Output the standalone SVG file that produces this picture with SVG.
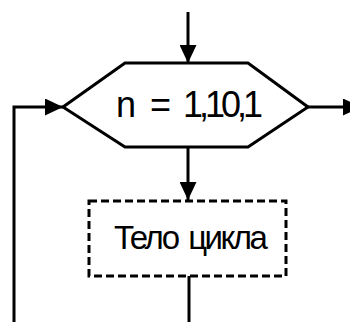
<svg xmlns="http://www.w3.org/2000/svg" width="350" height="322" viewBox="0 0 350 322">
<style>
.ln{fill:none;stroke:#000;stroke-width:3}
.sh{fill:#fff;stroke:#000;stroke-width:3}
.txt{font-family:"Liberation Sans",Arial,sans-serif;fill:#000}
</style>
<defs>
<marker id="ah" viewBox="0 0 18 17" refX="18" refY="8.5" markerWidth="18" markerHeight="17" markerUnits="userSpaceOnUse" orient="auto">
<path d="M0,0 L18,8.5 L0,17 Z" fill="#000"/>
</marker>
</defs>
<g id="connectors">
<path class="ln" d="M188,12 V63" marker-end="url(#ah)"/>
<path class="ln" d="M308,107 H361" marker-end="url(#ah)"/>
<path class="ln" d="M14,322 V107 H63" marker-end="url(#ah)"/>
<path class="ln" d="M188,147 V200" marker-end="url(#ah)"/>
<path class="ln" d="M189,276 V322"/>
</g>
<g id="loop">
<polygon class="sh" points="125,63 248,63 308,107 248,147 125,147 63,107"/>
<text class="txt" x="116" y="117" font-size="36">n</text>
<text class="txt" x="150" y="117" font-size="36">=</text>
<text class="txt" x="183" y="117" font-size="36" letter-spacing="-4">1,10,1</text>
</g>
<g id="body">
<rect x="89" y="201" width="197" height="75" fill="#fff" stroke="#000" stroke-width="3" stroke-dasharray="8,4"/>
<text class="txt" x="114" y="248.5" font-size="33" letter-spacing="-2.5" word-spacing="4">Тело цикла</text>
</g>
</svg>
